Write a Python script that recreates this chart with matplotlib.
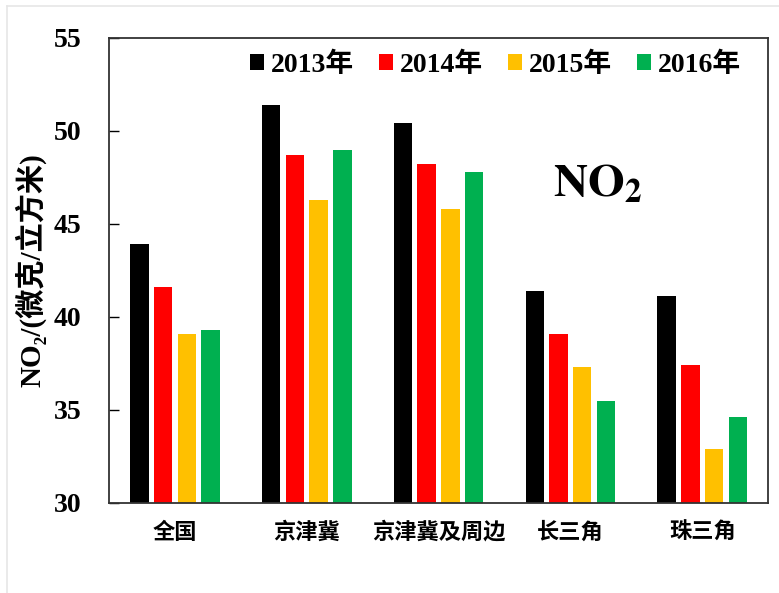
import numpy as np
import matplotlib
matplotlib.use('Agg')
import matplotlib.pyplot as plt
from matplotlib.lines import Line2D

plt.rcParams['font.family'] = ['Liberation Serif', 'Noto Sans CJK SC', 'DejaVu Serif']
plt.rcParams['font.weight'] = 'bold'
plt.rcParams['mathtext.fontset'] = 'stix'

regions = ['全国', '京津冀', '京津冀及周边', '长三角', '珠三角']
years = ['2013年', '2014年', '2015年', '2016年']
colors = ['#000000', '#ff0000', '#ffc000', '#00b050']

no2_2013 = [43.9, 51.4, 50.4, 41.4, 41.1]
no2_2014 = [41.6, 48.7, 48.2, 39.1, 37.4]
no2_2015 = [39.1, 46.3, 45.8, 37.3, 32.9]
no2_2016 = [39.3, 49.0, 47.8, 35.5, 34.6]
series = [no2_2013, no2_2014, no2_2015, no2_2016]

fig = plt.figure(figsize=(7.79, 5.93), dpi=100)
ax = fig.add_axes([0.140, 0.152, 0.846, 0.784])

x = np.arange(len(regions))
width = 0.14
step = 0.18
for i, (vals, lab, c) in enumerate(zip(series, years, colors)):
    ax.bar(x + (i - 1.5) * step, np.array(vals) - 30, width, bottom=30,
           color=c, label=lab)

ax.set_xlim(-0.5, 4.5)
ax.set_ylim(30, 55)
ax.set_yticks([30, 35, 40, 45, 50, 55])
ax.tick_params(axis='y', direction='in', length=7, width=1, labelsize=20, pad=20)
ax.tick_params(axis='x', length=0, pad=13)
ax.set_xticks(x)
ax.set_xticklabels(regions, fontsize=16, fontweight='bold',
                   family=['Noto Sans CJK SC', 'DejaVu Sans'])
for s in ax.spines.values():
    s.set_linewidth(1.3)
    s.set_color('#333333')

ax.set_ylabel('NO₂/(微克/立方米)', fontsize=21, fontweight='bold',
              family=['Liberation Serif', 'Noto Sans CJK SC', 'DejaVu Serif'], labelpad=5)

ax.text(0.674, 0.658, r'$\mathbf{NO_2}$', transform=ax.transAxes, fontsize=34,
        ha='left', va='baseline')

leg = ax.legend(loc='upper center', bbox_to_anchor=(0.586, 1.01), ncol=4, frameon=False,
                fontsize=20, handlelength=0.5, handleheight=0.5, handletextpad=0.25,
                columnspacing=0.9, borderaxespad=0.3)
for t in leg.get_texts():
    t.set_fontweight('bold')

# thin grey frame on the left and top edges of the image
fig.lines.append(Line2D([7 / 779, 7 / 779], [0, 1 - 6 / 593], transform=fig.transFigure,
                        color='#e6e6e6', linewidth=1.2))
fig.lines.append(Line2D([7 / 779, 1], [1 - 6 / 593, 1 - 6 / 593], transform=fig.transFigure,
                        color='#e6e6e6', linewidth=1.2))

fig.savefig('out.png', dpi=100)
